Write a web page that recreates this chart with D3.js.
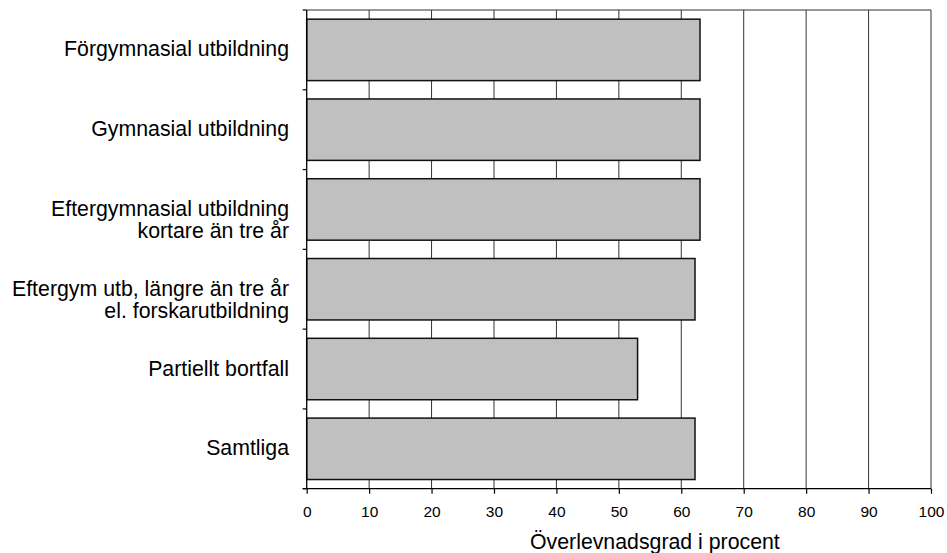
<!DOCTYPE html>
<html>
<head>
<meta charset="utf-8">
<script src="https://cdn.jsdelivr.net/npm/d3@7"></script>
<style>
  html, body { margin: 0; padding: 0; background: #fff; }
  svg { display: block; }
  text { font-family: "Liberation Sans", Arial, sans-serif; fill: #000; }
</style>
</head>
<body>
<svg id="chart" width="947" height="553"></svg>
<script>
const categories = [
  ["Förgymnasial utbildning"],
  ["Gymnasial utbildning"],
  ["Eftergymnasial utbildning", "kortare än tre år"],
  ["Eftergym utb, längre än tre år", "el. forskarutbildning"],
  ["Partiellt bortfall"],
  ["Samtliga"]
];
const values = [63, 63, 63, 62.2, 53, 62.2];
const xTicks = [0, 10, 20, 30, 40, 50, 60, 70, 80, 90, 100];
const xTitle = "Överlevnadsgrad i procent";

(function () {
const svg = d3.select("#chart");
const pL = 306.7, pR = 931, pT = 10, pB = 488.7;

const x = d3.scaleLinear().domain([0, 100]).range([pL, pR]);
const y = d3.scaleBand().domain(d3.range(categories.length)).range([pT, pB])
  .paddingInner(0.23).paddingOuter(0.115);
const step = (pB - pT) / categories.length;

// gridlines
svg.append("g").selectAll("line").data(xTicks.filter(d => d > 0)).join("line")
  .attr("x1", d => x(d)).attr("x2", d => x(d))
  .attr("y1", pT).attr("y2", pB)
  .attr("stroke", "#333").attr("stroke-width", 1);

// top border
svg.append("line").attr("x1", pL).attr("x2", pR).attr("y1", pT).attr("y2", pT)
  .attr("stroke", "#333").attr("stroke-width", 1);

// bars
svg.append("g").selectAll("rect").data(values).join("rect")
  .attr("x", x(0))
  .attr("y", (d, i) => y(i))
  .attr("width", d => x(d) - x(0))
  .attr("height", y.bandwidth())
  .attr("fill", "#c0c0c0")
  .attr("stroke", "#111")
  .attr("stroke-width", 1.5);

// bottom axis
const xAxis = d3.axisBottom(x).tickValues(xTicks).tickSize(5).tickPadding(6).tickFormat(d3.format("d"));
const gx = svg.append("g").attr("transform", `translate(0,${pB})`).call(xAxis);
gx.select(".domain").attr("stroke", "#000").attr("stroke-width", 1.3).attr("d", `M${pL - 4},0H${pR}`);
gx.selectAll(".tick line").attr("stroke", "#000").attr("stroke-width", 1.2);
gx.selectAll(".tick text").attr("font-size", 15.5).attr("font-family", "Liberation Sans, Arial, sans-serif")
  .attr("fill", "#000").attr("dy", null).attr("y", 28.3);

// left axis line + ticks at band boundaries
svg.append("line").attr("x1", pL).attr("x2", pL).attr("y1", pT).attr("y2", pB)
  .attr("stroke", "#000").attr("stroke-width", 1.3);
svg.append("g").selectAll("line").data(d3.range(categories.length + 1)).join("line")
  .attr("x1", pL - 4).attr("x2", pL)
  .attr("y1", i => pT + i * step).attr("y2", i => pT + i * step)
  .attr("stroke", "#000").attr("stroke-width", 1.2);

// category labels
const lab = svg.append("g").selectAll("text").data(categories).join("text")
  .attr("x", 289)
  .attr("text-anchor", "end")
  .attr("font-size", 21.3)
  .attr("y", (d, i) => pT + (i + 0.5) * step + 6.5);
lab.selectAll("tspan").data(d => d).join("tspan")
  .attr("x", 289)
  .attr("dy", (d, j) => j === 0 ? 0 : 22.3)
  .text(d => d);

// x title
svg.append("text").attr("x", 530).attr("y", 548.5)
  .attr("font-size", 21.3).text(xTitle);
})();
</script>
</body>
</html>
